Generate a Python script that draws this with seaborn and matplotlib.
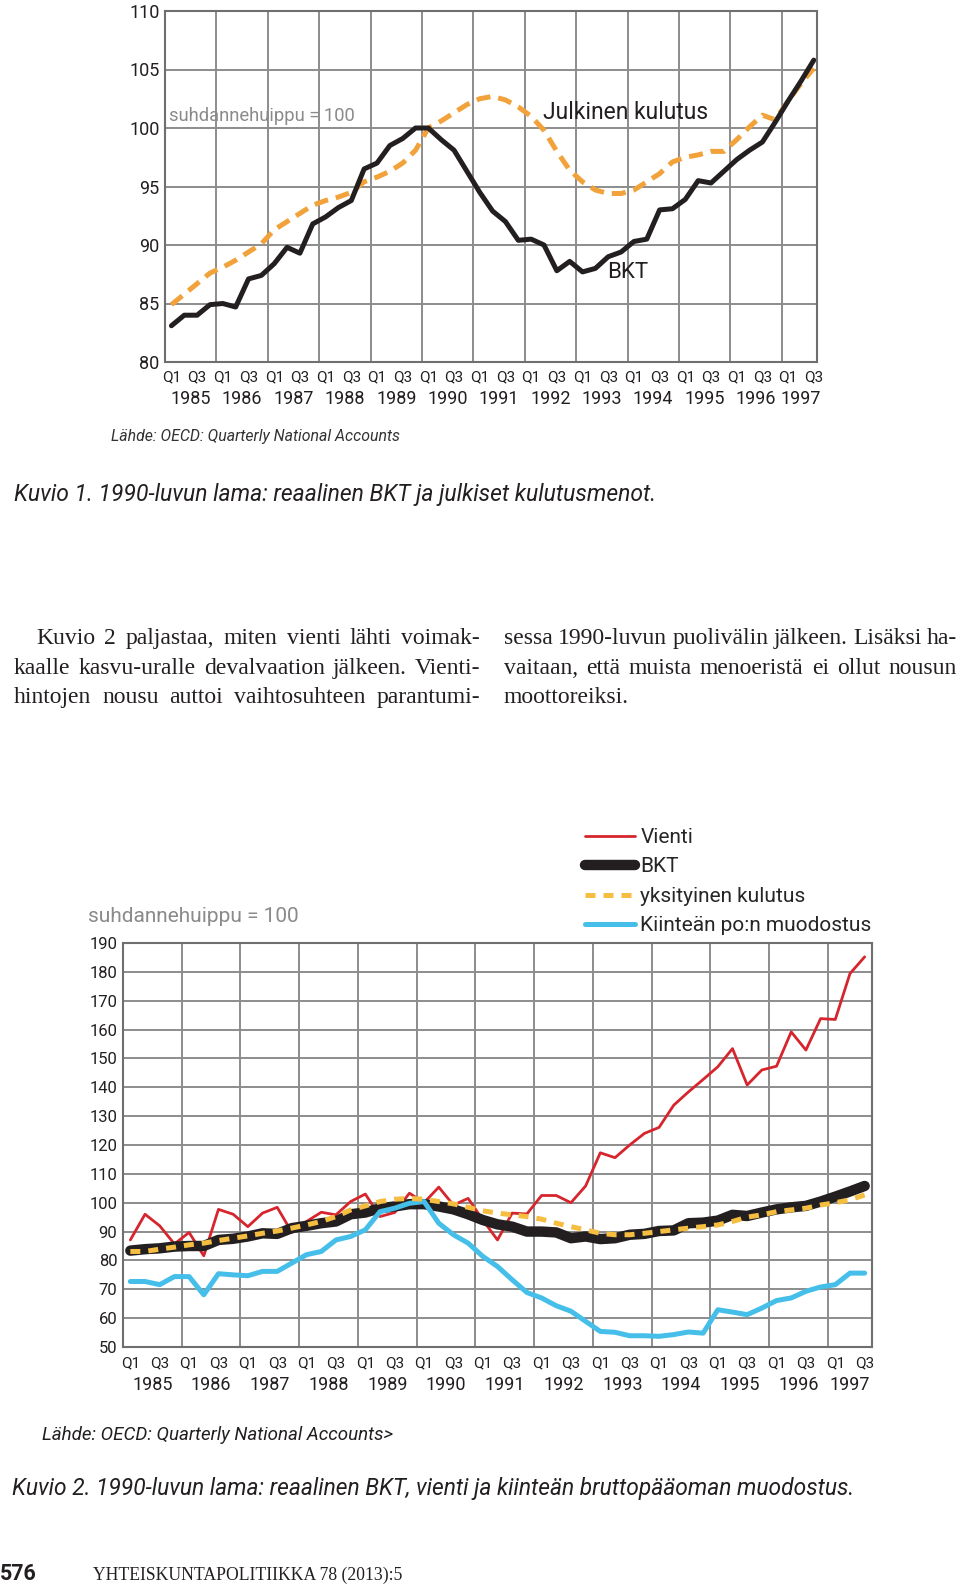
import numpy as np
import pandas as pd
import matplotlib
matplotlib.use("Agg")
import matplotlib.pyplot as plt
import seaborn as sns

# ---------------- data ----------------
quarter = list(range(51))          # 1985Q1 ... 1997Q3
years = list(range(1985, 1998))
q_labels = (["Q1", "", "Q3", ""] * 13)[:51]

top_bkt = [83.1, 84.0, 84.0, 84.9, 85.0, 84.7, 87.1, 87.4, 88.4, 89.8,
           89.3, 91.8, 92.4, 93.2, 93.8, 96.5, 97.0, 98.5, 99.1, 100.0,
           100.0, 99.0, 98.1, 96.3, 94.5, 92.9, 92.0, 90.4, 90.5, 90.0,
           87.8, 88.6, 87.7, 88.0, 89.0, 89.4, 90.3, 90.5, 93.0, 93.1,
           93.9, 95.5, 95.3, 96.3, 97.3, 98.1, 98.8, 100.5, 102.3, 104.0, 105.8]
top_julkinen = [84.9, 85.8, 86.7, 87.6, 88.1, 88.7, 89.4, 90.1, 91.3, 92.0,
                92.7, 93.4, 93.8, 94.1, 94.5, 95.4, 95.8, 96.3, 97.0, 98.1,
                100.0, 100.6, 101.3, 102.0, 102.5, 102.7, 102.4, 101.8, 101.0, 99.8,
                98.0, 96.4, 95.4, 94.7, 94.4, 94.4, 94.7, 95.4, 96.1, 97.1,
                97.5, 97.7, 98.0, 98.0, 99.0, 100.1, 101.1, 100.7, 102.3, 103.8, 105.1]

bot_vienti = [87.1, 96.0, 92.0, 85.7, 89.7, 81.6, 97.7, 96.0, 91.7, 96.4,
              98.4, 89.7, 93.5, 96.7, 95.8, 100.4, 103.0, 95.2, 96.6, 103.3,
              100.0, 105.4, 99.2, 101.5, 94.0, 87.1, 96.4, 96.1, 102.5, 102.5,
              100.0, 105.8, 117.3, 115.6, 120.0, 124.0, 126.1, 133.8, 138.4, 142.7,
              147.1, 153.4, 140.8, 146.0, 147.3, 159.2, 152.9, 163.8, 163.5, 179.4, 185.2]
bot_bkt = [83.4, 83.9, 84.2, 84.8, 85.0, 85.0, 87.1, 87.5, 88.3, 89.4,
           89.2, 91.2, 92.0, 92.9, 93.5, 96.0, 96.6, 98.1, 98.7, 99.5,
           99.5, 98.7, 97.7, 96.0, 94.0, 92.5, 91.7, 90.0, 90.0, 89.7,
           87.7, 88.3, 87.4, 87.7, 88.9, 89.2, 90.2, 90.4, 92.9, 93.1,
           93.8, 95.8, 95.4, 96.6, 97.7, 98.4, 98.9, 100.4, 102.1, 103.9, 105.8]
bot_yksityinen = [83.1, 83.1, 83.9, 84.6, 85.4, 86.0, 86.9, 87.7, 88.5, 89.4,
                  90.2, 91.2, 92.3, 93.5, 95.2, 97.5, 98.9, 100.4, 101.2, 101.5,
                  101.2, 100.4, 99.6, 98.4, 97.2, 96.4, 95.8, 95.2, 94.3, 92.9,
                  91.7, 90.6, 89.4, 88.9, 88.9, 89.4, 90.0, 90.6, 91.2, 91.7,
                  92.3, 93.5, 95.0, 95.8, 96.9, 97.5, 98.1, 99.2, 100.0, 101.0, 102.7]
bot_kiintea = [72.7, 72.7, 71.6, 74.4, 74.4, 68.1, 75.4, 75.0, 74.7, 76.2,
               76.2, 79.1, 82.0, 83.1, 87.1, 88.3, 90.6, 96.9, 98.1, 99.8,
               100.4, 92.9, 88.9, 86.0, 81.4, 77.9, 73.3, 68.9, 67.0, 64.3,
               62.4, 58.9, 55.4, 55.1, 53.9, 53.9, 53.7, 54.3, 55.2, 54.8,
               62.9, 62.1, 61.2, 63.5, 66.1, 67.0, 69.3, 70.8, 71.6, 75.6, 75.6]

top_yticks = [80, 85, 90, 95, 100, 105, 110]
bot_yticks = list(range(50, 191, 10))

# ---------------- style ----------------
sns.set_style("white")
plt.rcParams["font.family"] = ["Roboto", "DejaVu Sans"]

BLACK = "#231f20"
ORANGE = "#f2a23a"
YELLOW = "#f5be40"
BLUE = "#45bfe9"
RED = "#d6252d"
GRID = "#8c8c8c"
GRAYTXT = "#8a8a8a"

W, H = 960, 1586
fig = plt.figure(figsize=(W / 100, H / 100), dpi=100)


def rect(l, t, r, b):
    return [l / W, 1 - b / H, (r - l) / W, (b - t) / H]


def style_axis(ax, ylim, yticks, xmax, ysize, qsize, qpad, ysize_year, year_off):
    ax.set_xlim(-0.5, xmax)
    ax.set_ylim(*ylim)
    ax.set_yticks(yticks)
    ax.set_yticklabels([str(v) for v in yticks], fontsize=ysize, color=BLACK)
    ax.tick_params(axis="y", length=0, pad=4)
    bounds = [4 * k - 0.5 for k in range(13)]
    ax.set_xticks(bounds)
    ax.set_xticklabels([""] * len(bounds))
    ax.set_xticks(quarter, minor=True)
    ax.set_xticklabels(q_labels, minor=True, fontsize=qsize, color=BLACK)
    ax.tick_params(axis="x", which="major", length=32, width=1.2, color=GRID, direction="out")
    ax.tick_params(axis="x", which="minor", length=5, width=1.0, color=GRID, pad=qpad, direction="out")
    ax.grid(True, which="major", color=GRID, linewidth=1.4)
    for s in ax.spines.values():
        s.set_color("#6f6f6f")
        s.set_linewidth(1.5)
    for k, yr in enumerate(years):
        xc = 4 * k + 1.5 if yr < 1997 else 49
        ax.annotate(str(yr), xy=(xc, 0), xycoords=("data", "axes fraction"),
                    xytext=(0, -year_off), textcoords="offset points",
                    ha="center", va="center", fontsize=ysize_year, color=BLACK)
    ax.set_xlabel("")
    ax.set_ylabel("")


# ---------------- top chart ----------------
ax1 = fig.add_axes(rect(165, 11, 817, 362))
df_top = pd.DataFrame({"q": quarter, "BKT": top_bkt, "Julkinen kulutus": top_julkinen})
sns.lineplot(data=df_top, x="q", y="Julkinen kulutus", ax=ax1, color=ORANGE,
             linewidth=3.6, linestyle=(0, (2.8, 1.6)), legend=False)
sns.lineplot(data=df_top, x="q", y="BKT", ax=ax1, color=BLACK, linewidth=3.6,
             legend=False)
style_axis(ax1, (80, 110), top_yticks, 50.25, 13, 11, 1.0, 13, 27)
ax1.text(0.006, 0.70, "suhdannehuippu = 100", transform=ax1.transAxes,
         fontsize=13.2, color=GRAYTXT, ha="left", va="center")
ax1.text(0.58, 0.712, "Julkinen kulutus", transform=ax1.transAxes,
         fontsize=16.5, color=BLACK, ha="left", va="center")
ax1.text(0.678, 0.254, "BKT", transform=ax1.transAxes,
         fontsize=16, color=BLACK, ha="left", va="center")

# ---------------- bottom chart ----------------
ax2 = fig.add_axes(rect(123, 943, 872, 1347))
df_bot = pd.DataFrame({"q": quarter, "Vienti": bot_vienti, "BKT": bot_bkt,
                       "yksityinen kulutus": bot_yksityinen,
                       "Kiinteän po:n muodostus": bot_kiintea})
sns.lineplot(data=df_bot, x="q", y="Vienti", ax=ax2, color=RED, linewidth=2.0,
             label="Vienti")
sns.lineplot(data=df_bot, x="q", y="BKT", ax=ax2, color=BLACK, linewidth=7.5,
             solid_capstyle="round", label="BKT")
sns.lineplot(data=df_bot, x="q", y="Kiinteän po:n muodostus", ax=ax2, color=BLUE,
             linewidth=3.6, label="Kiinteän po:n muodostus")
sns.lineplot(data=df_bot, x="q", y="yksityinen kulutus", ax=ax2, color=YELLOW,
             linewidth=3.6, linestyle=(0, (2.0, 1.6)), label="yksityinen kulutus")
style_axis(ax2, (50, 190), bot_yticks, 50.5, 12, 11, 1.5, 13, 27)

handles, labels = ax2.get_legend_handles_labels()
order = ["Vienti", "BKT", "yksityinen kulutus", "Kiinteän po:n muodostus"]
hmap = dict(zip(labels, handles))
ax2.legend([hmap[l] for l in order], order, loc="upper left",
           bbox_to_anchor=(585 / W, 1 - 828 / H), bbox_transform=fig.transFigure,
           frameon=False, fontsize=15, handlelength=2.4, handletextpad=0.25,
           labelspacing=0.5, borderpad=0, borderaxespad=0)
fig.text(88 / W, 1 - 917 / H, "suhdannehuippu = 100", fontsize=15, color=GRAYTXT,
         ha="left", va="center")

# ---------------- page text ----------------
fig.text(111 / W, 1 - 436 / H, "Lähde: OECD: Quarterly National Accounts",
         fontsize=11.4, style="italic", color="#333333", ha="left", va="center")
fig.text(14 / W, 1 - 495 / H,
         "Kuvio 1. 1990-luvun lama: reaalinen BKT ja julkiset kulutusmenot.",
         fontsize=16.5, style="italic", color=BLACK, ha="left", va="center")
fig.text(42 / W, 1 - 1435 / H, "Lähde: OECD: Quarterly National Accounts>",
         fontsize=13.5, style="italic", color=BLACK, ha="left", va="center")
fig.text(12 / W, 1 - 1488 / H,
         "Kuvio 2. 1990-luvun lama: reaalinen BKT, vienti ja kiinteän bruttopääoman muodostus.",
         fontsize=16.4, style="italic", color=BLACK, ha="left", va="center")
fig.text(0 / W, 1 - 1574 / H, "576", fontsize=15.5, fontweight="bold",
         color=BLACK, ha="left", va="center")
fig.text(93 / W, 1 - 1575 / H, "YHTEISKUNTAPOLITIIKKA 78 (2013):5", fontsize=12.7,
         family="Liberation Serif", color=BLACK, ha="left", va="center")

renderer = fig.canvas.get_renderer()
BODY = 17


def put_line(text, x0, x1, ybase, justify):
    words = text.split(" ")
    objs = [fig.text(0, 1 - ybase / H, w, fontsize=BODY, family="Liberation Serif",
                     color=BLACK, ha="left", va="baseline") for w in words]
    widths = [o.get_window_extent(renderer).width for o in objs]
    if justify and len(words) > 1:
        gap = (x1 - x0 - sum(widths)) / (len(words) - 1)
    else:
        gap = BODY * 0.25 * 100 / 72
    x = x0
    for o, w in zip(objs, widths):
        o.set_x(x / W)
        x += w + gap


put_line("Kuvio 2 paljastaa, miten vienti lähti voimak-", 36, 480, 644, True)
put_line("kaalle kasvu-uralle devalvaation jälkeen. Vienti-", 14, 480, 674, True)
put_line("hintojen nousu auttoi vaihtosuhteen parantumi-", 14, 480, 703, True)
put_line("sessa 1990-luvun puolivälin jälkeen. Lisäksi ha-", 504, 957, 644, True)
put_line("vaitaan, että muista menoeristä ei ollut nousun", 504, 957, 674, True)
put_line("moottoreiksi.", 504, 957, 703, False)

fig.savefig("out.png", dpi=100)
